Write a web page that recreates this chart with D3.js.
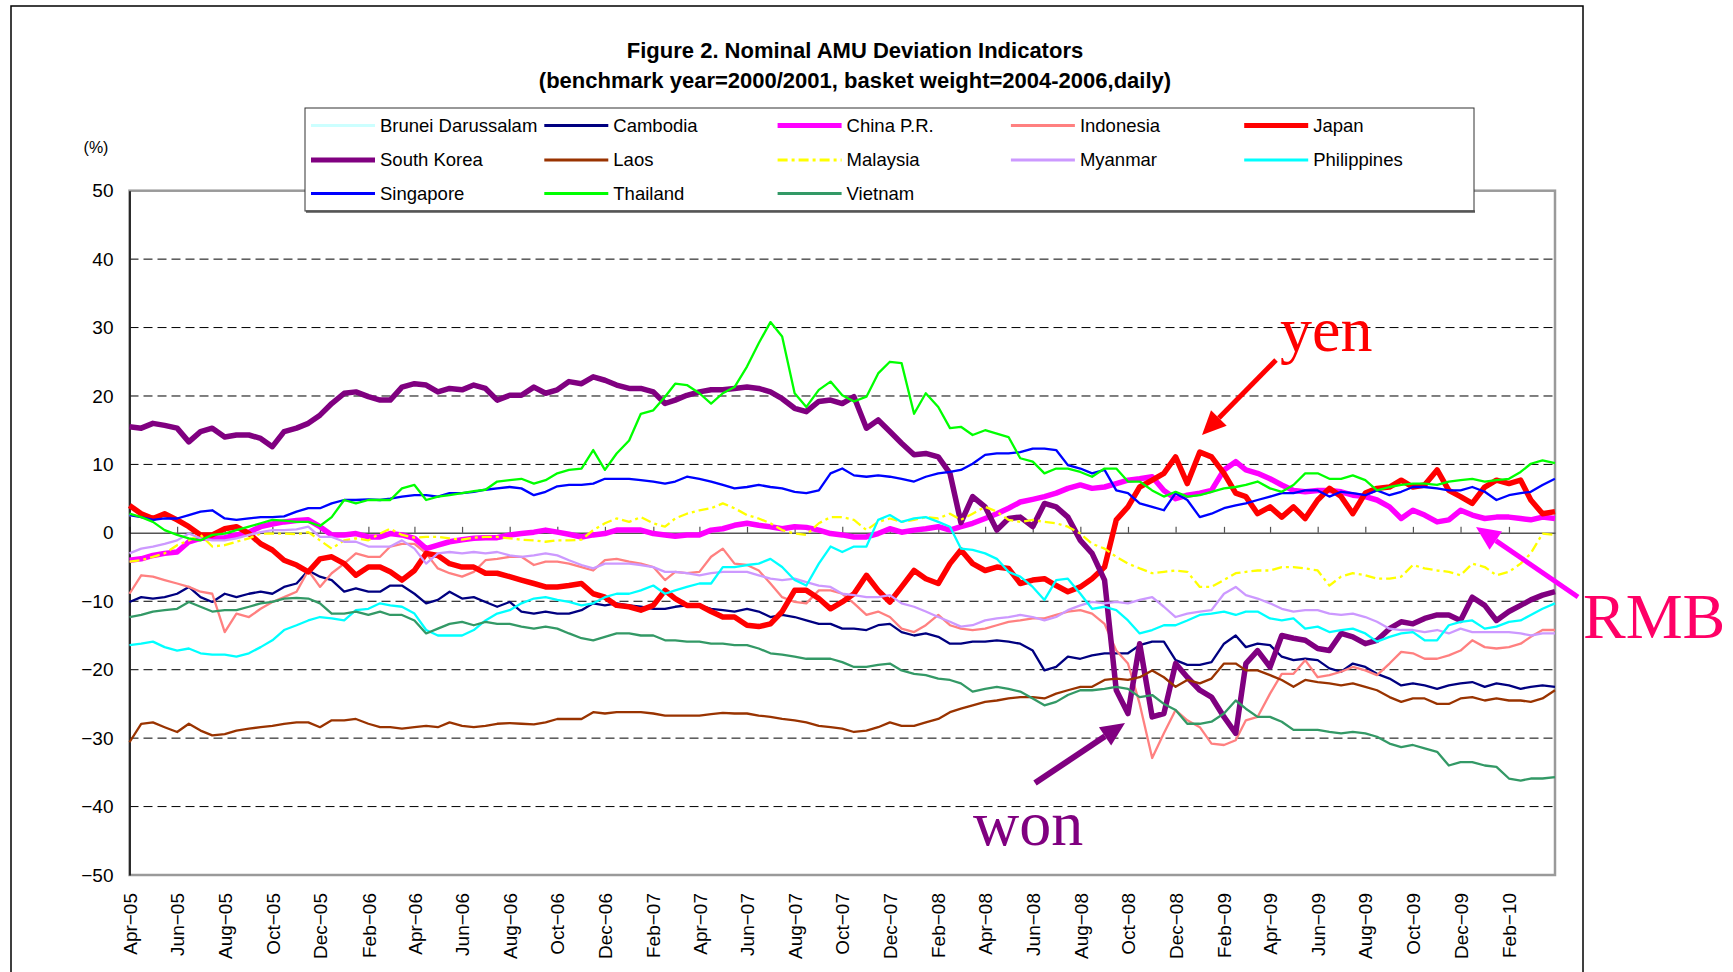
<!DOCTYPE html>
<html lang="en">
<head>
<meta charset="UTF-8">
<script src="https://cdn.jsdelivr.net/npm/d3@7"></script>
<style>
  body { margin: 0; background: #fff; }
  text { font-family: "Liberation Sans", Arial, sans-serif; }
</style>
<title>Nominal AMU Deviation Indicators</title>
</head>
<body>
<svg id="chart" width="1733" height="972"></svg>
<script>

// Values, one every half month from Apr-05 to Apr-10 (%)
const cambodia = [
  -10.1,-9.4,-9.6,-9.4,-8.9,-7.9,-9.4,-10.1,-8.9,-9.4,-8.9,-8.6,-8.9,-7.9,-7.4,-5.5,-6.4,-6.9,-8.6,-8.1,-8.6,
  -8.6,-7.7,-7.7,-8.9,-10.3,-9.8,-8.6,-9.6,-9.4,-10.1,-10.8,-10.1,-11.5,-11.8,-11.5,-11.8,-11.8,-11.3,-10.3,-10.6,
  -10.3,-10.6,-10.8,-11.1,-11.1,-10.8,-10.6,-10.6,-11.1,-11.3,-11.5,-11.1,-11.5,-12.3,-12.0,-12.3,-12.8,-13.3,-13.3,-14.0,
  -14.0,-14.2,-13.5,-13.3,-14.5,-15.0,-14.7,-15.2,-16.2,-16.2,-15.9,-15.9,-15.7,-15.9,-16.2,-17.2,-20.1,-19.6,-18.1,-18.4,
  -17.9,-17.6,-17.6,-17.6,-16.4,-15.9,-15.9,-18.6,-19.3,-19.3,-18.9,-16.2,-15.0,-16.7,-16.2,-16.4,-18.1,-18.6,-18.4,-18.6,
  -19.8,-20.3,-19.1,-19.6,-20.6,-21.3,-22.3,-22.0,-22.3,-22.8,-22.3,-22.0,-21.8,-22.5,-22.0,-22.3,-22.8,-22.5,-22.3,-22.5];

const china = [
  -4.0,-3.8,-3.3,-3.0,-2.8,-1.3,-0.8,-0.8,-0.7,-0.3,0.1,0.9,1.3,1.6,1.8,1.9,0.9,-0.3,-0.3,-0.1,-0.6,
  -0.6,-0.1,-0.3,-0.8,-2.3,-1.8,-1.3,-1.0,-0.8,-0.7,-0.7,-0.3,-0.1,0.1,0.4,0.1,-0.2,-0.6,-0.3,-0.1,
  0.4,0.4,0.4,-0.1,-0.3,-0.5,-0.3,-0.3,0.4,0.6,1.1,1.4,1.1,0.9,0.6,0.9,0.8,0.4,-0.1,-0.3,
  -0.6,-0.6,-0.1,0.6,0.1,0.4,0.6,0.9,0.4,0.9,1.4,2.1,2.8,3.6,4.5,4.9,5.3,5.8,6.5,7.0,
  6.5,6.7,7.2,7.7,7.9,8.2,6.2,5.0,5.5,5.8,6.2,9.2,10.4,9.2,8.7,7.9,7.0,6.2,6.0,6.2,
  6.2,6.0,5.5,5.3,4.8,3.8,2.1,3.3,2.6,1.6,1.9,3.3,2.6,2.1,2.3,2.3,2.1,1.9,2.3,2.1];

const indonesia = [
  -8.9,-6.2,-6.4,-6.9,-7.4,-7.9,-8.6,-8.9,-14.5,-11.8,-12.3,-11.1,-10.1,-9.4,-8.6,-5.5,-7.9,-5.9,-4.5,-3.0,-3.5,
  -3.5,-2.0,-1.6,-1.6,-3.0,-5.2,-5.9,-6.4,-5.7,-4.0,-3.8,-3.5,-3.5,-4.7,-4.2,-4.2,-4.5,-5.0,-5.5,-4.0,
  -3.8,-4.2,-4.5,-5.0,-6.9,-5.7,-5.9,-5.7,-3.5,-2.3,-4.5,-4.7,-5.5,-7.4,-9.4,-10.1,-10.3,-8.4,-8.4,-8.9,
  -10.3,-12.0,-11.5,-12.3,-14.0,-14.5,-13.5,-12.0,-13.5,-14.0,-14.2,-14.0,-13.5,-13.0,-12.8,-12.5,-12.5,-12.0,-11.5,-11.3,
  -11.8,-13.3,-17.2,-19.1,-25.0,-32.9,-29.3,-25.9,-27.4,-28.4,-30.8,-31.0,-30.3,-27.4,-26.9,-23.5,-20.6,-20.6,-18.6,-21.1,
  -20.8,-20.3,-19.6,-20.1,-20.8,-19.1,-17.4,-17.6,-18.4,-18.4,-17.9,-17.2,-15.7,-16.7,-16.9,-16.7,-16.2,-15.2,-14.2,-14.2];

const japan = [
  4.0,2.8,2.1,2.8,1.9,0.9,-0.3,-0.3,0.6,0.9,-0.1,-1.6,-2.5,-4.0,-4.7,-5.7,-3.8,-3.5,-4.5,-6.2,-5.0,
  -5.0,-5.7,-6.9,-5.5,-3.0,-3.3,-4.5,-5.0,-5.0,-5.9,-5.9,-6.4,-6.9,-7.4,-7.9,-7.9,-7.7,-7.4,-8.9,-9.4,
  -10.6,-10.8,-11.3,-10.6,-8.4,-9.6,-10.6,-10.6,-11.5,-12.3,-12.3,-13.5,-13.7,-13.3,-11.5,-8.4,-8.4,-9.6,-11.1,-10.1,
  -8.9,-6.2,-8.4,-10.1,-7.9,-5.5,-6.7,-7.4,-4.5,-2.5,-4.5,-5.5,-5.0,-5.2,-7.4,-6.9,-6.7,-7.7,-8.6,-7.9,
  -6.7,-5.0,1.9,3.8,6.7,7.7,8.7,11.1,7.2,11.8,11.1,8.7,5.8,5.3,2.8,3.8,2.3,3.8,2.1,4.8,
  6.5,5.3,2.8,5.8,6.5,6.7,7.7,6.7,7.0,9.2,6.2,5.3,4.3,6.7,7.7,7.2,7.7,4.8,2.8,3.1];

const korea = [
  15.5,15.3,16.0,15.7,15.3,13.3,14.8,15.3,14.0,14.3,14.3,13.8,12.6,14.8,15.3,16.0,17.2,18.9,20.4,20.6,19.9,
  19.4,19.4,21.3,21.8,21.6,20.6,21.1,20.9,21.6,21.1,19.4,20.1,20.1,21.3,20.4,20.9,22.1,21.8,22.8,22.3,
  21.6,21.1,21.1,20.6,18.9,19.4,20.1,20.6,20.9,20.9,21.1,21.3,21.1,20.6,19.6,18.2,17.7,19.2,19.4,18.9,
  19.9,15.3,16.5,14.8,13.1,11.4,11.6,11.1,8.7,1.5,5.3,3.8,0.4,2.1,2.3,0.9,4.3,3.8,2.3,-1.1,
  -3.0,-6.9,-23.0,-26.4,-16.2,-26.9,-26.4,-19.1,-21.1,-23.0,-24.0,-26.9,-29.3,-19.1,-17.2,-19.6,-15.0,-15.4,-15.7,-16.9,
  -17.2,-14.7,-15.2,-16.2,-15.7,-14.0,-13.0,-13.3,-12.5,-12.0,-12.0,-12.8,-9.4,-10.6,-12.8,-11.5,-10.6,-9.8,-9.1,-8.6];

const laos = [
  -30.6,-27.9,-27.7,-28.4,-29.1,-27.9,-28.9,-29.6,-29.4,-28.9,-28.6,-28.4,-28.2,-27.9,-27.7,-27.7,-28.4,-27.4,-27.4,-27.2,-27.9,
  -28.4,-28.4,-28.6,-28.4,-28.2,-28.4,-27.7,-28.2,-28.4,-28.2,-27.9,-27.8,-27.9,-28.0,-27.7,-27.2,-27.2,-27.2,-26.2,-26.4,
  -26.2,-26.2,-26.2,-26.4,-26.7,-26.7,-26.7,-26.7,-26.5,-26.3,-26.4,-26.4,-26.7,-26.9,-27.2,-27.4,-27.7,-28.2,-28.4,-28.6,
  -29.1,-28.9,-28.4,-27.7,-28.2,-28.2,-27.7,-27.2,-26.2,-25.7,-25.2,-24.7,-24.5,-24.2,-24.0,-24.0,-24.2,-23.5,-23.0,-22.5,
  -22.5,-21.5,-21.3,-21.5,-21.1,-20.1,-21.1,-22.5,-21.5,-22.0,-21.3,-19.1,-19.1,-20.1,-20.1,-20.8,-21.5,-22.5,-21.5,-21.8,
  -22.0,-22.3,-22.0,-22.5,-23.0,-24.0,-24.7,-24.2,-24.2,-25.0,-25.0,-24.2,-24.0,-24.5,-24.2,-24.5,-24.5,-24.7,-24.2,-23.0];

const malaysia = [
  -4.2,-4.0,-3.5,-3.0,-1.8,-1.1,-0.3,-2.0,-1.8,-1.3,-0.8,-0.1,-0.1,-0.1,-0.2,0.1,-1.1,-2.3,-1.1,-0.8,-1.1,
  -0.1,0.6,-0.3,-0.7,-0.6,-0.6,-0.8,-1.0,-0.7,-0.6,-0.6,-0.8,-1.0,-1.1,-1.3,-1.1,-1.1,-1.0,0.4,1.4,
  2.1,1.6,2.3,1.4,0.9,2.1,2.8,3.3,3.6,4.3,3.6,2.6,2.1,1.4,0.4,-0.1,-0.3,1.4,2.3,2.3,
  1.9,0.4,1.6,2.1,1.6,1.9,2.3,2.1,2.8,1.9,2.8,3.8,3.1,1.9,1.6,1.9,1.6,1.4,0.9,-0.1,
  -1.6,-2.3,-3.5,-4.5,-5.2,-5.9,-5.7,-5.5,-5.7,-7.9,-7.9,-6.9,-5.9,-5.7,-5.5,-5.5,-5.0,-5.0,-5.2,-5.5,
  -7.7,-6.4,-5.9,-6.2,-6.7,-6.7,-6.4,-4.7,-5.2,-5.5,-5.7,-6.2,-4.5,-5.0,-6.2,-5.7,-4.5,-3.0,-0.1,-0.3];

const myanmar = [
  -3.0,-2.3,-2.0,-1.6,-1.1,-0.1,-0.8,-1.1,-1.1,-0.8,-0.3,0.1,0.4,0.4,0.5,0.9,-0.6,-0.6,-1.3,-1.3,-2.0,
  -2.0,-2.0,-1.1,-2.3,-4.5,-3.0,-2.8,-3.0,-2.8,-3.0,-2.8,-3.3,-3.5,-3.3,-3.0,-3.3,-4.0,-4.7,-5.2,-4.5,
  -4.5,-4.5,-4.7,-5.0,-5.7,-5.7,-5.9,-6.2,-5.9,-5.7,-5.7,-5.7,-6.2,-6.7,-6.9,-6.7,-7.2,-7.7,-7.9,-8.9,
  -9.1,-9.4,-9.4,-9.1,-10.3,-10.8,-11.5,-12.3,-13.0,-13.7,-13.5,-12.8,-12.5,-12.3,-12.0,-12.3,-12.8,-12.3,-11.3,-10.6,
  -10.1,-10.3,-10.1,-10.3,-9.8,-9.4,-10.8,-12.3,-11.8,-11.5,-11.3,-8.9,-7.9,-9.1,-9.6,-10.3,-11.1,-11.5,-11.3,-11.3,
  -11.8,-12.0,-11.8,-12.3,-13.0,-14.0,-14.2,-14.2,-14.5,-14.2,-14.7,-14.0,-14.5,-14.5,-14.5,-14.5,-14.7,-15.0,-14.7,-14.7];

const philippines = [
  -16.4,-16.2,-15.9,-16.7,-17.2,-16.9,-17.6,-17.8,-17.8,-18.1,-17.6,-16.7,-15.7,-14.2,-13.5,-12.8,-12.3,-12.5,-12.8,-11.3,-11.1,
  -10.3,-10.6,-10.8,-11.8,-14.2,-15.0,-15.0,-15.0,-14.2,-12.8,-11.8,-11.3,-10.3,-9.6,-9.4,-9.8,-10.1,-10.6,-10.3,-9.4,
  -8.9,-8.9,-8.4,-7.7,-8.9,-8.4,-7.9,-7.4,-7.4,-5.0,-5.0,-4.7,-4.5,-3.8,-5.0,-6.9,-7.7,-4.5,-2.0,-2.8,
  -2.0,-2.0,1.9,2.6,1.6,2.1,2.3,1.6,0.9,-2.3,-2.5,-3.0,-3.8,-5.7,-6.4,-7.9,-9.8,-6.9,-6.7,-8.9,
  -11.1,-10.8,-11.3,-12.8,-14.7,-14.2,-13.5,-13.5,-12.8,-12.0,-11.8,-11.5,-12.0,-11.5,-11.5,-12.5,-12.8,-12.5,-14.0,-13.7,
  -14.5,-14.2,-14.0,-14.7,-15.9,-15.2,-14.7,-14.5,-15.7,-15.7,-13.5,-13.0,-12.8,-14.0,-13.7,-13.0,-12.8,-12.0,-11.1,-10.3];

const singapore = [
  2.6,2.3,1.9,2.1,2.1,2.6,3.1,3.3,2.1,1.9,2.1,2.3,2.3,2.4,3.1,3.6,3.6,4.3,4.8,4.8,4.9,
  4.8,5.0,5.3,5.5,5.5,5.3,5.8,5.8,6.0,6.3,6.5,6.7,6.5,5.5,6.0,6.8,7.0,7.0,7.2,7.9,
  7.9,7.9,7.7,7.5,7.2,7.5,8.2,7.9,7.5,7.0,6.5,6.7,7.0,6.7,6.5,6.0,5.8,6.2,8.7,9.4,
  8.4,8.2,8.4,8.2,7.9,7.5,8.2,8.7,8.9,9.2,10.1,11.4,11.6,11.6,11.8,12.3,12.3,12.1,9.9,9.4,
  8.7,9.2,6.2,5.8,4.3,3.8,3.3,5.8,4.8,2.3,2.8,3.6,4.0,4.3,4.8,5.3,5.8,5.8,6.2,6.2,
  5.3,6.0,5.8,5.5,6.2,5.5,6.0,6.7,6.7,6.5,6.2,6.2,6.7,6.0,4.8,5.5,5.8,6.0,7.0,7.9];

// Brunei dollar tracks the Singapore dollar, the line sits under the blue one
const brunei = [
  2.6,2.3,1.9,2.1,2.1,2.6,3.1,3.3,2.1,1.9,2.1,2.3,2.3,2.4,3.1,3.6,3.6,4.3,4.8,4.8,4.9,
  4.8,5.0,5.3,5.5,5.5,5.3,5.8,5.8,6.0,6.3,6.5,6.7,6.5,5.5,6.0,6.8,7.0,7.0,7.2,7.9,
  7.9,7.9,7.7,7.5,7.2,7.5,8.2,7.9,7.5,7.0,6.5,6.7,7.0,6.7,6.5,6.0,5.8,6.2,8.7,9.4,
  8.4,8.2,8.4,8.2,7.9,7.5,8.2,8.7,8.9,9.2,10.1,11.4,11.6,11.6,11.8,12.3,12.3,12.1,9.9,9.4,
  8.7,9.2,6.2,5.8,4.3,3.8,3.3,5.8,4.8,2.3,2.8,3.6,4.0,4.3,4.8,5.3,5.8,5.8,6.2,6.2,
  5.3,6.0,5.8,5.5,6.2,5.5,6.0,6.7,6.7,6.5,6.2,6.2,6.7,6.0,4.8,5.5,5.8,6.0,7.0,7.9];

const thailand = [
  2.8,2.3,1.6,0.4,-0.3,-0.8,-1.1,-0.3,-0.1,0.4,0.9,1.4,1.9,1.8,1.6,1.6,1.0,2.3,4.8,4.3,4.8,
  4.8,4.8,6.5,7.0,4.8,5.3,5.5,5.8,6.1,6.3,7.5,7.7,7.9,7.2,7.7,8.7,9.2,9.4,12.1,9.2,
  11.6,13.5,17.4,17.9,19.9,21.8,21.6,20.4,18.9,20.4,21.3,24.3,27.7,30.8,28.7,20.4,18.4,20.9,22.1,20.1,
  19.2,19.9,23.3,25.0,24.8,17.4,20.4,18.4,15.3,15.5,14.3,15.0,14.5,14.0,10.9,10.4,8.7,9.4,9.4,8.9,
  8.2,9.4,9.4,7.5,7.5,6.2,5.3,6.0,5.3,5.5,6.0,6.5,6.7,7.0,7.5,6.5,6.0,7.0,8.7,8.7,
  7.9,7.9,8.4,7.7,6.2,6.7,7.0,7.2,7.2,7.0,7.5,7.7,7.9,7.5,7.7,7.9,8.9,10.1,10.6,10.2];

const vietnam = [
  -12.3,-12.0,-11.5,-11.3,-11.1,-10.1,-10.8,-11.5,-11.3,-11.3,-10.8,-10.3,-10.1,-9.6,-9.5,-9.6,-10.3,-11.8,-11.8,-11.5,-12.0,
  -11.5,-12.0,-12.0,-12.8,-14.7,-14.0,-13.3,-13.0,-13.5,-13.0,-13.3,-13.3,-13.7,-14.0,-13.7,-14.0,-14.7,-15.4,-15.7,-15.2,
  -14.7,-14.7,-15.0,-15.0,-15.7,-15.7,-15.9,-15.9,-16.2,-16.2,-16.4,-16.4,-16.9,-17.6,-17.8,-18.1,-18.4,-18.4,-18.4,-18.9,
  -19.6,-19.6,-19.3,-19.1,-20.1,-20.6,-20.8,-21.3,-21.5,-22.0,-23.2,-22.8,-22.5,-22.8,-23.2,-24.2,-25.2,-24.7,-23.7,-23.0,
  -23.0,-22.8,-22.5,-22.8,-24.0,-23.7,-25.0,-25.9,-27.9,-27.9,-27.6,-26.4,-24.5,-25.7,-26.9,-26.9,-27.6,-28.8,-28.8,-28.8,
  -29.1,-29.3,-29.1,-29.3,-29.8,-30.8,-31.3,-31.0,-31.5,-32.0,-34.0,-33.5,-33.5,-34.0,-34.2,-35.9,-36.2,-35.9,-35.9,-35.7];

const seriesNames = ["Brunei Darussalam", "Cambodia", "China P.R.", "Indonesia", "Japan",
  "South Korea", "Laos", "Malaysia", "Myanmar", "Philippines",
  "Singapore", "Thailand", "Vietnam"];
const seriesValues = [brunei, cambodia, china, indonesia, japan,
  korea, laos, malaysia, myanmar, philippines,
  singapore, thailand, vietnam];

const yTicks = [50, 40, 30, 20, 10, 0, -10, -20, -30, -40, -50];

// styles
const colors = ["#CCFFFF", "#000080", "#FF00FF", "#FF8080", "#FF0000",
  "#800080", "#993300", "#FFFF00", "#CC99FF", "#00FFFF",
  "#0000FF", "#00FF00", "#339966"];
const thick = new Set(["China P.R.", "Japan", "South Korea"]);

// one sample every half month, starting 1 Apr 2005
const sampleDates = d3.range(cambodia.length)
  .map(i => new Date(2005, 3 + Math.floor(i / 2), i % 2 ? 16 : 1));

const svg = d3.select("#chart");
const W = 1733, H = 972;
const plot = { left: 129.5, right: 1555, top: 190.7, bottom: 875 };
const sans = "'Liberation Sans', Arial, sans-serif";
const serif = "'Liberation Serif', 'Times New Roman', serif";

svg.append("rect").attr("width", W).attr("height", H).attr("fill", "#fff");

// outer chart frame
svg.append("rect")
  .attr("x", 11).attr("y", 6).attr("width", 1572).attr("height", 1000)
  .attr("fill", "none").attr("stroke", "#000").attr("stroke-width", 1.5);

const x = d3.scaleTime()
  .domain([new Date(2005, 3, 1), new Date(2010, 3, 1)])
  .range([plot.left, plot.right]);
const y = d3.scaleLinear().domain([-50, 50]).range([plot.bottom, plot.top]);

const fmtNum = d => (d < 0 ? "\u2212" + Math.abs(d) : String(d));
const fmtMonth = d => d3.timeFormat("%b")(d) + "\u2212" + d3.timeFormat("%y")(d);

// dashed gridlines
svg.append("g").selectAll("line")
  .data(yTicks.filter(v => v !== 0 && Math.abs(v) !== 50))
  .join("line")
  .attr("x1", plot.left).attr("x2", plot.right)
  .attr("y1", d => y(d)).attr("y2", d => y(d))
  .attr("stroke", "#000").attr("stroke-width", 1)
  .attr("stroke-dasharray", "9,5");

// plot area border
svg.append("rect")
  .attr("x", plot.left).attr("y", plot.top)
  .attr("width", plot.right - plot.left).attr("height", plot.bottom - plot.top)
  .attr("fill", "none").attr("stroke", "#9a9a9a").attr("stroke-width", 2.5);

// category axis crossing at zero, ticks every two months
const monthTicks = d3.timeMonth.range(new Date(2005, 3, 1), new Date(2010, 2, 2), 2);
const zeroAxis = svg.append("g")
  .attr("transform", `translate(0,${y(0)})`)
  .call(d3.axisTop(x).tickValues(monthTicks).tickSize(6).tickSizeOuter(0).tickFormat(""));
zeroAxis.select(".domain").attr("stroke", "#555").attr("stroke-width", 1.5);
zeroAxis.selectAll(".tick line").attr("stroke", "#555").attr("stroke-width", 1.2);

// month labels along the bottom
const xLab = svg.append("g")
  .attr("transform", `translate(0,${plot.bottom})`)
  .call(d3.axisBottom(x).tickValues(monthTicks).tickSize(0).tickFormat(fmtMonth));
xLab.select(".domain").remove();
xLab.selectAll("text")
  .attr("transform", "rotate(-90)")
  .attr("text-anchor", "end")
  .attr("x", -18).attr("y", 0).attr("dy", "0.35em")
  .style("font-size", "19px")
  .style("font-family", sans)
  .style("fill", "#000");

// value axis
const yAxis = svg.append("g")
  .attr("transform", `translate(${plot.left},0)`)
  .call(d3.axisLeft(y).tickValues(yTicks).tickSize(0).tickPadding(16).tickFormat(fmtNum));
yAxis.select(".domain").attr("stroke", "#000").attr("stroke-width", 1.5);
yAxis.selectAll("text")
  .style("font-size", "19px")
  .style("font-family", sans)
  .style("fill", "#000");

svg.append("text").attr("x", 96).attr("y", 153)
  .attr("text-anchor", "middle").style("font-size", "16px").text("(%)");

// series
const line = d3.line()
  .x(d => x(d.date))
  .y(d => y(d.value));

const series = seriesNames.map((name, i) => ({
  name,
  color: colors[i],
  points: seriesValues[i].map((v, j) => ({ date: sampleDates[j], value: v }))
}));

svg.append("g").selectAll("path")
  .data(series)
  .join("path")
  .attr("d", d => line(d.points))
  .attr("fill", "none")
  .attr("stroke", d => d.color)
  .attr("stroke-width", d => thick.has(d.name) ? 5.5 : 2.3)
  .attr("stroke-dasharray", d => d.name === "Malaysia" ? "10,4,3,4" : null)
  .attr("stroke-linejoin", "round");

// legend
const legend = svg.append("g");
legend.append("rect")
  .attr("x", 305).attr("y", 108).attr("width", 1169).attr("height", 103)
  .attr("fill", "#fff").attr("stroke", "#333").attr("stroke-width", 1);
legend.append("line")
  .attr("x1", 306).attr("x2", 1475).attr("y1", 211.5).attr("y2", 211.5)
  .attr("stroke", "#555").attr("stroke-width", 2.5);

const rowY = [125.5, 160, 193.5];
const items = legend.selectAll(".item")
  .data(series)
  .join("g")
  .attr("class", "item")
  .attr("transform", (d, i) => `translate(${311 + (i % 5) * 233.3},${rowY[Math.floor(i / 5)]})`);
items.append("line")
  .attr("x1", 0).attr("x2", 64)
  .attr("stroke", d => d.color)
  .attr("stroke-width", d => thick.has(d.name) ? 5 : 2.8)
  .attr("stroke-dasharray", d => d.name === "Malaysia" ? "10,4,3,4" : null);
items.append("text")
  .attr("x", 69).attr("dy", "0.35em")
  .style("font-size", "18.5px")
  .style("fill", "#000")
  .text(d => d.name);

// title
const title = svg.append("g").attr("text-anchor", "middle");
title.append("text").attr("x", 855).attr("y", 58)
  .style("font-size", "22px").style("font-weight", "bold").style("fill", "#000")
  .text("Figure 2. Nominal AMU Deviation Indicators");
title.append("text").attr("x", 855).attr("y", 88)
  .style("font-size", "22px").style("font-weight", "bold").style("fill", "#000")
  .text("(benchmark year=2000/2001, basket weight=2004-2006,daily)");

// annotations with arrows
function arrow(x1, y1, x2, y2, color, width, headLen, headWide) {
  const a = Math.atan2(y2 - y1, x2 - x1);
  const bx = x2 - headLen * Math.cos(a), by = y2 - headLen * Math.sin(a);
  svg.append("line")
    .attr("x1", x1).attr("y1", y1).attr("x2", bx).attr("y2", by)
    .attr("stroke", color).attr("stroke-width", width);
  const px = Math.sin(a) * headWide / 2, py = -Math.cos(a) * headWide / 2;
  svg.append("polygon")
    .attr("points", `${x2},${y2} ${bx + px},${by + py} ${bx - px},${by - py}`)
    .attr("fill", color);
}

arrow(1276, 360, 1202, 435, "#FF0000", 5, 24, 22);
arrow(1035, 783, 1125, 723, "#800080", 6, 24, 22);
arrow(1578, 597, 1476, 527, "#FF00FF", 5, 24, 22);

const notes = [
  { label: "yen", x: 1280, y: 351, color: "#FF0000" },
  { label: "won", x: 973, y: 845, color: "#800080" },
  { label: "RMB", x: 1583, y: 638, color: "#FF0066" }
];
svg.append("g").selectAll("text")
  .data(notes)
  .join("text")
  .attr("x", d => d.x).attr("y", d => d.y)
  .style("font-size", "64px")
  .style("font-family", serif)
  .style("fill", d => d.color)
  .text(d => d.label);

</script>
</body>
</html>
